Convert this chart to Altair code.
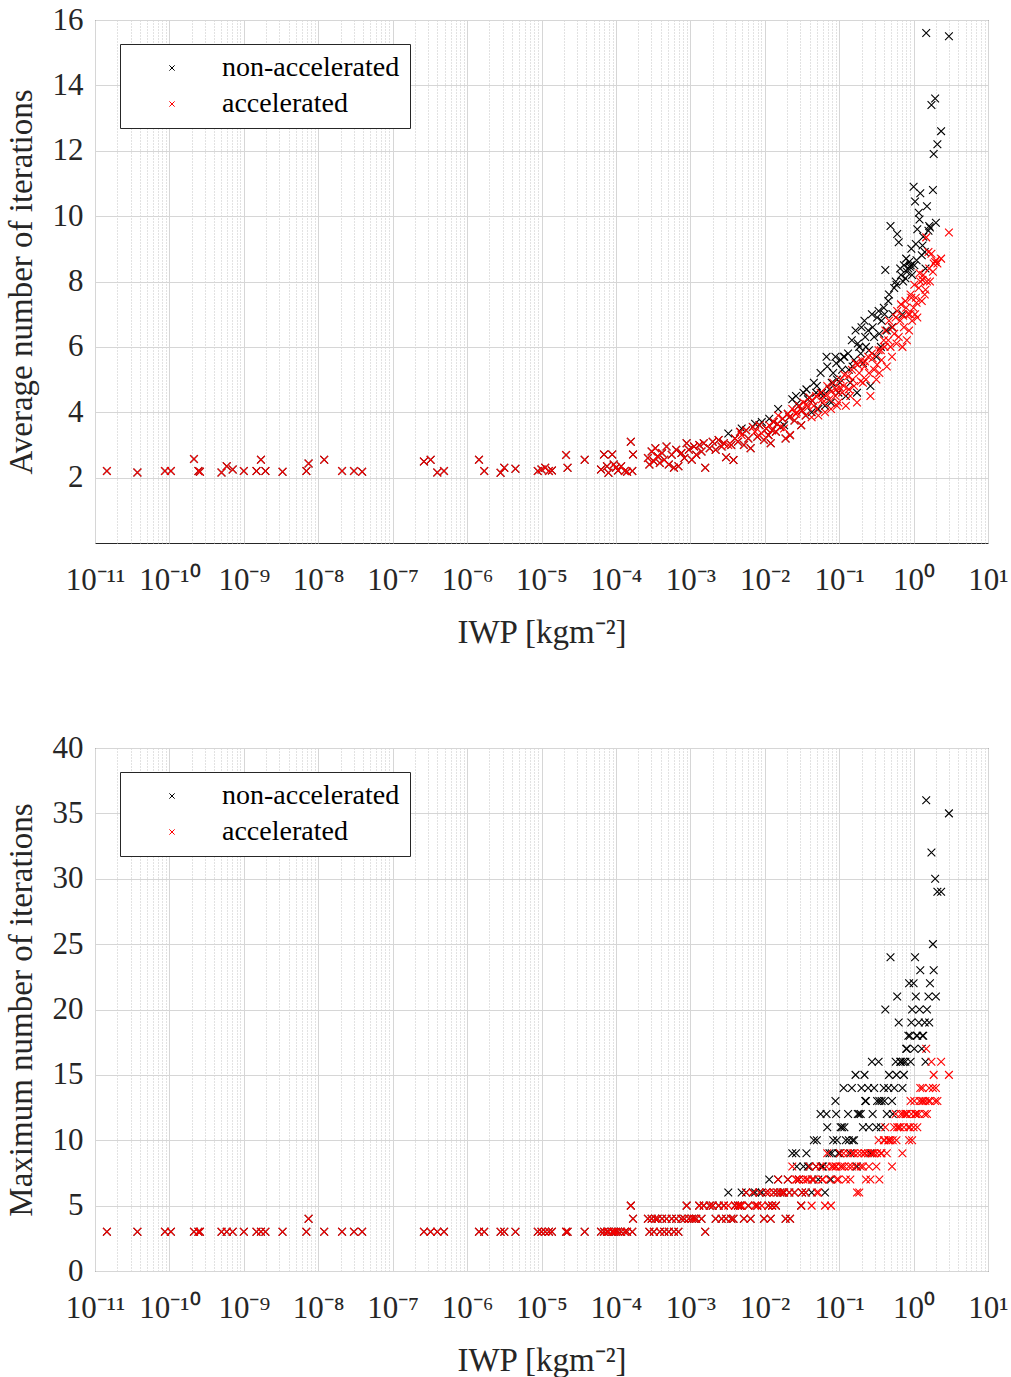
import json
import altair as alt
import pandas as pd

# ------------------------------------------------------------------ data
series_names = ["non-accelerated", "accelerated"]
series_colors = ["#000000", "#ff0000"]
x_tick_labels = ["10⁻¹¹", "10⁻¹⁰", "10⁻⁹", "10⁻⁸", "10⁻⁷", "10⁻⁶", "10⁻⁵",
                 "10⁻⁴", "10⁻³", "10⁻²", "10⁻¹", "10⁰", "10¹"]
x_decades = list(range(-11, 2))
avg_y_ticks = [2, 4, 6, 8, 10, 12, 14, 16]
max_y_ticks = [0, 5, 10, 15, 20, 25, 30, 35, 40]

# thin-cloud cases (both methods identical)
low_iwp_log10 = [-10.84, -10.43, -10.06, -9.98, -9.67, -9.61, -9.59, -9.30, -9.23, -9.15,
                 -9.00, -8.83, -8.77, -8.71, -8.48, -8.16, -8.13, -7.92, -7.68, -7.52,
                 -7.41, -6.58, -6.49, -6.40, -6.31, -5.84, -5.77, -5.55, -5.50, -5.35,
                 -5.05, -5.00, -4.95, -4.90, -4.86, -4.67, -4.65, -4.42]
low_avg = [2.20, 2.16, 2.20, 2.20, 2.57, 2.20, 2.18, 2.16, 2.35, 2.25,
           2.20, 2.20, 2.55, 2.20, 2.18, 2.20, 2.43, 2.55, 2.20, 2.20,
           2.18, 2.49, 2.55, 2.16, 2.20, 2.55, 2.20, 2.15, 2.30, 2.27,
           2.20, 2.25, 2.30, 2.20, 2.22, 2.69, 2.30, 2.55]
low_max = [3, 3, 3, 3, 3, 3, 3, 3, 3, 3,
           3, 3, 3, 3, 3, 3, 4, 3, 3, 3,
           3, 3, 3, 3, 3, 3, 3, 3, 3, 3,
           3, 3, 3, 3, 3, 3, 3, 3]

# thicker-cloud cases
hi_iwp_log10 = [
    -4.20, -4.16, -4.12, -4.10, -4.05, -4.03, -4.00, -3.97, -3.93, -3.88, -3.85, -3.80, -3.78, -3.77,
    -3.57, -3.55, -3.52, -3.49, -3.47, -3.44, -3.41, -3.38, -3.35, -3.32, -3.29, -3.25, -3.22, -3.19, -3.16,
    -3.12, -3.08, -3.05, -3.02, -2.98, -2.95, -2.92, -2.88, -2.85, -2.82, -2.80,
    -2.74, -2.70, -2.66, -2.62, -2.58, -2.55, -2.52, -2.49, -2.45, -2.42, -2.40,
    -2.36, -2.33, -2.31, -2.28, -2.25, -2.22, -2.19, -2.16, -2.13, -2.10, -2.07, -2.04, -2.01, -1.98, -1.95, -1.94, -1.92,
    -1.88, -1.85, -1.82, -1.79, -1.76, -1.72, -1.69, -1.66, -1.63, -1.60, -1.57, -1.54, -1.51, -1.48, -1.45, -1.42, -1.40, -1.37,
    -1.34, -1.31, -1.28, -1.25, -1.22, -1.19, -1.16, -1.13, -1.11, -1.08, -1.05, -1.04, -1.01, -0.98, -0.96, -0.94, -0.91,
    -0.88, -0.85, -0.83, -0.80, -0.78, -0.76, -0.73, -0.70, -0.68, -0.66, -0.64, -0.61, -0.58, -0.56, -0.53, -0.50, -0.47, -0.46,
    -0.43, -0.40, -0.38, -0.36, -0.33, -0.31, -0.29, -0.26, -0.24, -0.22, -0.20, -0.17, -0.15, -0.13, -0.11, -0.09, -0.07, -0.06, -0.04, -0.02, 0.00,
    0.02, 0.03, 0.05, 0.07, 0.09, 0.11, 0.13, 0.15, 0.17, 0.18, 0.20, 0.22, 0.24, 0.26, 0.27, 0.29, 0.32, 0.37, 0.475,
]
hi_avg_acc = [
    2.25, 2.71, 2.35, 2.15, 2.71, 2.40, 2.30, 2.22, 2.35, 2.20, 2.18, 3.10, 2.20, 2.71,
    2.60, 2.40, 2.80, 2.50, 2.90, 2.65, 2.45, 2.75, 2.55, 2.95, 2.40, 2.70, 2.30, 2.85, 2.35,
    2.75, 2.60, 3.05, 2.85, 2.55, 2.95, 2.70, 3.00, 2.80, 3.05, 2.30,
    2.90, 3.10, 2.85, 3.15, 2.95, 3.05, 2.62, 3.00, 3.00, 2.54, 3.20,
    3.10, 3.40, 3.30, 3.00, 3.45, 3.20, 2.90, 3.55, 3.40, 3.25, 3.60, 3.35, 3.15, 3.50, 3.30, 3.60, 3.05,
    3.70, 3.40, 3.90, 3.55, 3.80, 3.20, 3.95, 3.30, 4.10, 3.75, 4.00, 4.20, 3.60, 4.30, 3.90, 4.15, 4.45, 3.85,
    4.2, 4.5, 3.9, 4.6, 4.3, 4.0, 4.8, 4.4, 4.1, 4.9, 4.5, 4.7, 4.3, 5.0, 4.6, 4.8, 4.2,
    5.1, 4.5, 5.3, 4.8, 5.5, 4.3, 5.2, 5.6, 4.9, 5.4, 5.0, 5.7, 4.5, 5.8, 5.3, 5.0, 5.9, 5.2,
    5.6, 6.2, 6.5, 5.4, 6.8, 6.0, 5.7, 6.4, 6.9, 7.1, 6.3, 7.3, 6.0, 6.6, 7.4, 6.2, 7.0, 6.5, 7.6, 6.8, 7.2,
    7.00, 7.50, 6.90, 7.80, 8.00, 7.40, 8.20, 7.60, 9.35, 8.00, 8.90, 8.00, 8.85, 8.30, 8.55, 8.60, 8.55, 8.70, 9.50,
]
hi_avg_non = [
    2.25, 2.71, 2.35, 2.15, 2.71, 2.40, 2.30, 2.22, 2.35, 2.20, 2.18, 3.10, 2.20, 2.71,
    2.60, 2.40, 2.80, 2.50, 2.90, 2.65, 2.45, 2.75, 2.55, 2.95, 2.40, 2.70, 2.30, 2.85, 2.35,
    2.75, 2.60, 3.05, 2.85, 2.55, 2.95, 2.70, 3.00, 2.80, 3.05, 2.30,
    2.90, 3.10, 2.85, 3.15, 2.95, 3.05, 2.62, 3.35, 3.00, 2.54, 3.20,
    3.10, 3.40, 3.50, 3.00, 3.45, 3.20, 2.90, 3.55, 3.65, 3.25, 3.60, 3.70, 3.15, 3.50, 3.30, 3.80, 3.05,
    3.70, 3.40, 4.10, 3.55, 3.80, 3.20, 3.95, 3.30, 4.40, 3.75, 4.25, 4.20, 3.60, 4.60, 3.90, 4.40, 4.45, 4.00,
    4.9, 4.6, 4.1, 5.2, 4.5, 4.2, 5.4, 4.7, 4.3, 5.2, 5.7, 5.5, 4.6, 5.6, 5.3, 5.7, 4.5,
    5.8, 4.9, 6.2, 5.6, 6.5, 4.6, 6.0, 6.6, 5.5, 6.8, 6.0, 6.5, 4.8, 7.0, 6.3, 5.7, 7.1, 6.4,
    6.8, 7.2, 8.35, 6.5, 7.6, 9.7, 6.6, 7.8, 8.0, 9.45, 9.2, 8.2, 7.0, 8.5, 8.1, 8.3, 8.4, 8.6, 8.5, 8.2, 10.9,
    10.45, 9.15, 9.60, 10.10, 10.70, 8.80, 9.37, 8.90, 15.60, 10.30, 9.55, 9.65, 13.40, 10.80, 11.90, 13.60, 12.20, 12.60, 15.50,
]
hi_max_acc = [
    3, 3, 3, 3, 3, 3, 3, 3, 3, 3, 3, 5, 3, 4,
    4, 3, 4, 3, 4, 4, 3, 4, 3, 4, 3, 4, 3, 4, 3,
    4, 4, 5, 4, 4, 4, 4, 5, 4, 5, 3,
    5, 5, 4, 5, 4, 5, 4, 5, 4, 4, 5,
    5, 5, 5, 4, 6, 5, 4, 6, 5, 5, 6, 5, 4, 6, 5, 6, 4,
    6, 5, 7, 6, 6, 4, 7, 4, 8, 6, 7, 7, 5, 7, 6, 7, 8, 5,
    7, 8, 6, 8, 7, 5, 9, 7, 5, 8, 8, 8, 7, 8, 8, 9, 7,
    9, 7, 8, 9, 8, 6, 6, 9, 8, 9, 7, 9, 7, 9, 9, 8, 10, 7,
    9, 10, 11, 9, 10, 10, 8, 11, 12, 11, 11, 12, 9, 11, 12, 12, 11, 10, 13, 10, 11,
    12, 12, 11, 12, 14, 13, 13, 12, 17, 12, 13, 13, 16, 14, 15, 13, 13, 16, 15,
]
hi_max_non = [
    3, 3, 3, 3, 3, 3, 3, 3, 3, 3, 3, 5, 3, 4,
    4, 3, 4, 3, 4, 4, 3, 4, 3, 4, 3, 4, 3, 4, 3,
    4, 4, 5, 4, 4, 4, 4, 5, 4, 5, 3,
    5, 5, 4, 5, 4, 5, 4, 6, 4, 4, 5,
    5, 5, 6, 4, 6, 5, 4, 6, 6, 5, 6, 6, 4, 6, 5, 7, 4,
    6, 5, 7, 6, 6, 4, 7, 4, 9, 6, 8, 7, 5, 8, 6, 8, 8, 6,
    10, 8, 7, 12, 8, 6, 11, 9, 7, 10, 13, 12, 9, 11, 11, 14, 10,
    12, 9, 14, 10, 15, 8, 12, 14, 11, 15, 13, 14, 9, 16, 14, 11, 16, 13,
    13, 14, 20, 12, 15, 24, 13, 14, 16, 21, 19, 16, 14, 15, 16, 17, 18, 22, 16, 20, 22,
    24, 21, 18, 19, 23, 17, 18, 19, 36, 20, 21, 22, 32, 25, 23, 30, 29, 29, 35,
]

# further cases filling the dense part of the cloud
extra_iwp_log10 = [-1.90, -1.83, -1.74, -1.67, -1.58, -1.50, -1.44, -1.36, -1.30, -1.23,
                   -1.17, -1.10, -1.03, -0.99, -0.93, -0.87, -0.82, -0.75, -0.71, -0.65,
                   -0.60, -0.55, -0.49, -0.44, -0.39, -0.34, -0.28, -0.23, -0.18, -0.14,
                   -0.10, -0.05, -0.03, 0.01, 0.04, 0.08, 0.12, 0.16, 0.21, 0.30]
extra_avg_acc = [3.45, 3.65, 3.50, 3.85, 3.95, 4.05, 4.25, 4.35, 4.10, 4.40,
                 4.55, 4.65, 4.20, 4.75, 5.15, 4.70, 5.00, 5.45, 4.95, 5.55,
                 5.20, 5.65, 5.45, 5.90, 6.00, 6.20, 6.60, 6.10, 6.80, 6.95,
                 7.20, 7.00, 7.50, 7.90, 7.35, 8.25, 8.05, 7.75, 8.40, 8.65]
extra_avg_non = [3.45, 3.65, 3.60, 3.85, 4.50, 4.05, 4.70, 4.35, 4.80, 4.60,
                 5.70, 4.90, 5.00, 4.90, 5.70, 5.30, 5.40, 6.10, 5.80, 6.30,
                 5.90, 6.60, 6.90, 6.00, 7.00, 7.40, 7.00, 7.90, 8.40, 8.00,
                 8.70, 8.45, 9.00, 8.50, 8.65, 9.90, 9.10, 8.40, 9.70, 9.80]
extra_max_acc = [5, 6, 6, 6, 7, 6, 7, 7, 6, 7,
                 8, 8, 7, 9, 8, 8, 9, 9, 8, 9,
                 8, 9, 9, 9, 10, 10, 10, 10, 11, 12,
                 12, 11, 12, 13, 12, 13, 14, 13, 14, 14]
extra_max_non = [5, 6, 6, 6, 9, 6, 9, 7, 10, 8,
                 12, 9, 10, 9, 11, 10, 10, 12, 12, 13,
                 11, 12, 13, 11, 13, 14, 12, 15, 16, 16,
                 17, 18, 19, 17, 18, 20, 18, 16, 19, 21]

for grp in ((hi_iwp_log10, hi_avg_acc, hi_avg_non, hi_max_acc, hi_max_non),
            (extra_iwp_log10, extra_avg_acc, extra_avg_non, extra_max_acc, extra_max_non),
            (low_iwp_log10, low_avg, low_max)):
    assert len({len(a) for a in grp}) == 1, [len(a) for a in grp]

iwp_log10 = low_iwp_log10 + hi_iwp_log10 + extra_iwp_log10
avg_non = low_avg + hi_avg_non + extra_avg_non
avg_acc = low_avg + hi_avg_acc + extra_avg_acc
max_non = low_max + hi_max_non + extra_max_non
max_acc = low_max + hi_max_acc + extra_max_acc


def long_frame(non, acc):
    rows = []
    for e, v in zip(iwp_log10, non):
        rows.append({"iwp": 10.0 ** e, "value": v, "series": series_names[0], "ord": 0})
    for e, v in zip(iwp_log10, acc):
        rows.append({"iwp": 10.0 ** e, "value": v, "series": series_names[1], "ord": 1})
    return pd.DataFrame(rows)


df_avg = long_frame(avg_non, avg_acc)
df_max = long_frame(max_non, max_acc)

# ------------------------------------------------------------------ styling
FONT = "Liberation Serif"
X_PATH = "M-1,-1L1,1M-1,1L1,-1"
W, H = 893, 523

x_axis_values = [m * 10.0 ** d for d in x_decades[:-1] for m in range(1, 10)] + [10.0 ** x_decades[-1]]
LOG10 = "(log(datum.value)/LN10)"
MAJOR = f"abs({LOG10} - round({LOG10})) < 0.01"
label_expr = (f"{MAJOR} ? {json.dumps(x_tick_labels, ensure_ascii=False)}"
              f"[round({LOG10}) - ({x_decades[0]})] : ''")


def panel(df, y_title, y_domain, y_ticks):
    x_axis = alt.Axis(
        values=x_axis_values,
        labelExpr=label_expr,
        title="IWP [kgm⁻²]",
        grid=True,
        gridDash={"condition": {"test": MAJOR, "value": []}, "value": [1, 2]},
        gridColor={"condition": {"test": MAJOR, "value": "#d6d6d6"}, "value": "#c4c4c4"},
        gridWidth=1,
        ticks=False,
        domain=False,
        labelOverlap=False,
        labelFlush=False,
        labelFont=FONT,
        labelFontSize=31,
        labelColor="#262626",
        labelPadding=22,
        titleFont=FONT,
        titleFontSize=33,
        titleFontWeight="normal",
        titleColor="#262626",
        titlePadding=21,
    )
    y_axis = alt.Axis(
        values=y_ticks,
        title=y_title,
        grid=True,
        gridColor="#d6d6d6",
        gridWidth=1,
        ticks=False,
        domain=False,
        labelFont=FONT,
        labelFontSize=31,
        labelColor="#262626",
        labelPadding=12,
        titleFont=FONT,
        titleFontSize=33,
        titleFontWeight="normal",
        titleColor="#262626",
        titlePadding=14,
    )
    legend = alt.Legend(
        title=None,
        orient="none",
        legendX=25,
        legendY=24,
        direction="vertical",
        fillColor="white",
        strokeColor="#262626",
        padding=10,
        symbolType=X_PATH,
        symbolSize=28,
        symbolStrokeWidth=1,
        symbolOffset=28,
        labelOffset=36,
        labelLimit=500,
        labelFont=FONT,
        labelFontSize=28,
        labelColor="#000000",
        rowPadding=8,
    )
    return alt.Chart(df).mark_point(
        shape=X_PATH, filled=False, size=60, strokeWidth=1.1, opacity=1
    ).encode(
        x=alt.X("iwp:Q", scale=alt.Scale(type="log", domain=[1e-11, 10], nice=False), axis=x_axis),
        y=alt.Y("value:Q", scale=alt.Scale(domain=y_domain, nice=False, zero=False), axis=y_axis),
        color=alt.Color("series:N", sort=series_names,
                        scale=alt.Scale(domain=series_names, range=series_colors), legend=legend),
        order=alt.Order("ord:Q"),
    ).properties(width=W, height=H)


top = panel(df_avg, "Average number of iterations", [0, 16], avg_y_ticks)
bottom = panel(df_max, "Maximum number of iterations", [0, 40], max_y_ticks)

chart = alt.vconcat(top, bottom, spacing=81).resolve_legend(
    color="independent"
).properties(
    padding={"left": 4, "top": 3, "right": 0, "bottom": 0},
    background="white",
).configure_view(
    stroke="#262626", strokeWidth=1
)

chart.save("out.html", embed_options={"renderer": "svg", "actions": False})
